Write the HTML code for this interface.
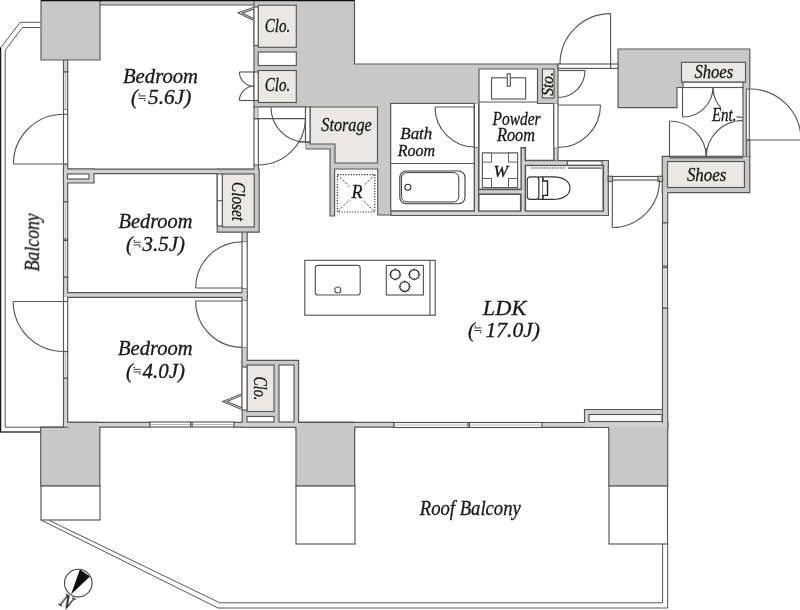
<!DOCTYPE html>
<html><head><meta charset="utf-8"><title>Floor plan</title>
<style>
html,body{margin:0;padding:0;background:#fff;}
body{width:800px;height:610px;overflow:hidden;font-family:"Liberation Serif",serif;}
svg{display:block;}
</style></head>
<body>
<svg width="800" height="610" viewBox="0 0 800 610">
<defs><filter id="soft" x="0" y="0" width="100%" height="100%"><feGaussianBlur stdDeviation="0.38"/></filter></defs>
<rect x="0" y="0" width="800" height="610" fill="#ffffff"/>
<g filter="url(#soft)">
<polygon points="41.58,1.07 99.42,1.07 99.42,59.42 41.58,59.42" fill="#c8c8c9" stroke="#565656" stroke-width="2.3" stroke-linejoin="miter"/>
<polygon points="100.58,1.07 253.43,1.07 253.43,4.42 100.58,4.42" fill="#c8c8c9" stroke="#565656" stroke-width="2.3" stroke-linejoin="miter"/>
<polygon points="254.57,1.07 353.93,1.07 353.93,64.58 557.42,64.58 557.42,102.92 479.57,102.92 479.57,69.58 536.92,69.58 536.92,102.92 390.43,102.92 390.43,214.43 378.27,214.43 378.27,168.43 334.03,168.43 334.03,215.43 330.57,215.43 330.57,148.43 306.07,148.43 306.07,106.42 254.57,106.42" fill="#c8c8c9" stroke="#565656" stroke-width="2.3" stroke-linejoin="miter"/>
<polygon points="64.08,60.58 67.12,60.58 67.12,71.42 64.08,71.42" fill="#d2d2d3" stroke="#565656" stroke-width="2.3" stroke-linejoin="miter"/>
<polygon points="64.08,165.07 67.12,165.07 67.12,201.43 64.08,201.43" fill="#d2d2d3" stroke="#565656" stroke-width="2.3" stroke-linejoin="miter"/>
<polygon points="64.08,277.57 67.12,277.57 67.12,296.43 64.08,296.43" fill="#d2d2d3" stroke="#565656" stroke-width="2.3" stroke-linejoin="miter"/>
<polygon points="64.08,378.57 67.12,378.57 67.12,426.43 64.08,426.43" fill="#d2d2d3" stroke="#565656" stroke-width="2.3" stroke-linejoin="miter"/>
<polygon points="64.08,169.67 257.43,169.67 257.43,173.03 64.08,173.03" fill="#d2d2d3" stroke="#565656" stroke-width="2.3" stroke-linejoin="miter"/>
<polygon points="64.08,169.67 93.42,169.67 93.42,182.43 64.08,182.43" fill="#d2d2d3" stroke="#565656" stroke-width="2.3" stroke-linejoin="miter"/>
<polygon points="217.77,169.88 258.62,169.88 258.62,231.62 217.77,231.62" fill="#c8c8c9" stroke="#565656" stroke-width="2.3" stroke-linejoin="miter"/>
<polygon points="254.57,107.58 257.82,107.58 257.82,118.02 254.57,118.02" fill="#d2d2d3" stroke="#565656" stroke-width="2.3" stroke-linejoin="miter"/>
<polygon points="254.57,165.57 257.82,165.57 257.82,173.03 254.57,173.03" fill="#d2d2d3" stroke="#565656" stroke-width="2.3" stroke-linejoin="miter"/>
<polygon points="242.57,232.57 246.62,232.57 246.62,241.43 242.57,241.43" fill="#d2d2d3" stroke="#565656" stroke-width="2.3" stroke-linejoin="miter"/>
<polygon points="242.57,288.57 246.62,288.57 246.62,300.43 242.57,300.43" fill="#d2d2d3" stroke="#565656" stroke-width="2.3" stroke-linejoin="miter"/>
<polygon points="64.08,293.18 246.62,293.18 246.62,296.73 64.08,296.73" fill="#d2d2d3" stroke="#565656" stroke-width="2.3" stroke-linejoin="miter"/>
<polygon points="242.57,347.88 246.62,347.88 246.62,364.43 242.57,364.43" fill="#d2d2d3" stroke="#565656" stroke-width="2.3" stroke-linejoin="miter"/>
<polygon points="242.77,360.97 298.03,360.97 298.03,426.62 242.77,426.62" fill="#c8c8c9" stroke="#565656" stroke-width="2.3" stroke-linejoin="miter"/>
<polygon points="64.08,422.88 149.43,422.88 149.43,426.62 64.08,426.62" fill="#d2d2d3" stroke="#565656" stroke-width="2.3" stroke-linejoin="miter"/>
<polygon points="234.07,422.88 393.43,422.88 393.43,426.62 234.07,426.62" fill="#d2d2d3" stroke="#565656" stroke-width="2.3" stroke-linejoin="miter"/>
<polygon points="541.88,423.07 667.12,423.07 667.12,426.73 541.88,426.73" fill="#d2d2d3" stroke="#565656" stroke-width="2.3" stroke-linejoin="miter"/>
<polygon points="41.28,427.77 99.22,427.77 99.22,485.62 41.28,485.62" fill="#c8c8c9" stroke="#565656" stroke-width="2.3" stroke-linejoin="miter"/>
<polygon points="296.57,427.77 354.12,427.77 354.12,485.62 296.57,485.62" fill="#c8c8c9" stroke="#565656" stroke-width="2.3" stroke-linejoin="miter"/>
<polygon points="609.38,427.77 667.12,427.77 667.12,485.62 609.38,485.62" fill="#c8c8c9" stroke="#565656" stroke-width="2.3" stroke-linejoin="miter"/>
<polygon points="68.28,422.88 99.22,422.88 99.22,429.43 68.28,429.43" fill="#c8c8c9" stroke="#565656" stroke-width="2.3" stroke-linejoin="miter"/>
<polygon points="296.57,422.88 354.12,422.88 354.12,429.43 296.57,429.43" fill="#c8c8c9" stroke="#565656" stroke-width="2.3" stroke-linejoin="miter"/>
<polygon points="609.38,423.07 667.12,423.07 667.12,429.43 609.38,429.43" fill="#c8c8c9" stroke="#565656" stroke-width="2.3" stroke-linejoin="miter"/>
<polygon points="663.08,157.57 667.12,157.57 667.12,222.43 663.08,222.43" fill="#d2d2d3" stroke="#565656" stroke-width="2.3" stroke-linejoin="miter"/>
<polygon points="663.08,308.57 667.12,308.57 667.12,426.73 663.08,426.73" fill="#d2d2d3" stroke="#565656" stroke-width="2.3" stroke-linejoin="miter"/>
<polygon points="585.08,410.07 662.12,410.07 662.12,426.73 585.08,426.73" fill="#d2d2d3" stroke="#565656" stroke-width="2.3" stroke-linejoin="miter"/>
<polygon points="391.57,211.57 607.72,211.57 607.72,214.93 391.57,214.93" fill="#d2d2d3" stroke="#565656" stroke-width="2.3" stroke-linejoin="miter"/>
<polygon points="474.97,147.57 478.03,147.57 478.03,214.93 474.97,214.93" fill="#d2d2d3" stroke="#565656" stroke-width="2.3" stroke-linejoin="miter"/>
<polygon points="479.18,190.17 524.62,190.17 524.62,193.62 479.18,193.62" fill="#d2d2d3" stroke="#565656" stroke-width="2.3" stroke-linejoin="miter"/>
<polygon points="521.58,148.17 524.62,148.17 524.62,214.93 521.58,214.93" fill="#d2d2d3" stroke="#565656" stroke-width="2.3" stroke-linejoin="miter"/>
<polygon points="521.58,161.17 607.72,161.17 607.72,164.73 521.58,164.73" fill="#d2d2d3" stroke="#565656" stroke-width="2.3" stroke-linejoin="miter"/>
<polygon points="604.08,161.17 607.72,161.17 607.72,214.93 604.08,214.93" fill="#d2d2d3" stroke="#565656" stroke-width="2.3" stroke-linejoin="miter"/>
<polygon points="554.38,148.17 557.42,148.17 557.42,160.43 554.38,160.43" fill="#d2d2d3" stroke="#565656" stroke-width="2.3" stroke-linejoin="miter"/>
<polygon points="618.58,49.58 749.22,49.58 749.22,88.42 743.58,88.42 743.58,86.92 676.42,86.92 676.42,107.02 618.58,107.02" fill="#c8c8c9" stroke="#565656" stroke-width="2.3" stroke-linejoin="miter"/>
<polygon points="743.58,88.08 745.72,88.08 745.72,156.43 743.58,156.43" fill="#d2d2d3" stroke="#565656" stroke-width="2.3" stroke-linejoin="miter"/>
<polygon points="662.88,156.88 749.22,156.88 749.22,192.12 662.88,192.12" fill="#c8c8c9" stroke="#565656" stroke-width="2.3" stroke-linejoin="miter"/>
<polygon points="746.88,140.57 749.22,140.57 749.22,156.43 746.88,156.43" fill="#c8c8c9" stroke="#565656" stroke-width="2.3" stroke-linejoin="miter"/>
<polygon points="41.58,1.07 99.42,1.07 99.42,59.42 41.58,59.42" fill="#c8c8c9"/>
<polygon points="100.58,1.07 253.43,1.07 253.43,4.42 100.58,4.42" fill="#c8c8c9"/>
<polygon points="254.57,1.07 353.93,1.07 353.93,64.58 557.42,64.58 557.42,102.92 479.57,102.92 479.57,69.58 536.92,69.58 536.92,102.92 390.43,102.92 390.43,214.43 378.27,214.43 378.27,168.43 334.03,168.43 334.03,215.43 330.57,215.43 330.57,148.43 306.07,148.43 306.07,106.42 254.57,106.42" fill="#c8c8c9"/>
<polygon points="64.08,60.58 67.12,60.58 67.12,71.42 64.08,71.42" fill="#d2d2d3"/>
<polygon points="64.08,165.07 67.12,165.07 67.12,201.43 64.08,201.43" fill="#d2d2d3"/>
<polygon points="64.08,277.57 67.12,277.57 67.12,296.43 64.08,296.43" fill="#d2d2d3"/>
<polygon points="64.08,378.57 67.12,378.57 67.12,426.43 64.08,426.43" fill="#d2d2d3"/>
<polygon points="64.08,169.67 257.43,169.67 257.43,173.03 64.08,173.03" fill="#d2d2d3"/>
<polygon points="64.08,169.67 93.42,169.67 93.42,182.43 64.08,182.43" fill="#d2d2d3"/>
<polygon points="217.77,169.88 258.62,169.88 258.62,231.62 217.77,231.62" fill="#c8c8c9"/>
<polygon points="254.57,107.58 257.82,107.58 257.82,118.02 254.57,118.02" fill="#d2d2d3"/>
<polygon points="254.57,165.57 257.82,165.57 257.82,173.03 254.57,173.03" fill="#d2d2d3"/>
<polygon points="242.57,232.57 246.62,232.57 246.62,241.43 242.57,241.43" fill="#d2d2d3"/>
<polygon points="242.57,288.57 246.62,288.57 246.62,300.43 242.57,300.43" fill="#d2d2d3"/>
<polygon points="64.08,293.18 246.62,293.18 246.62,296.73 64.08,296.73" fill="#d2d2d3"/>
<polygon points="242.57,347.88 246.62,347.88 246.62,364.43 242.57,364.43" fill="#d2d2d3"/>
<polygon points="242.77,360.97 298.03,360.97 298.03,426.62 242.77,426.62" fill="#c8c8c9"/>
<polygon points="64.08,422.88 149.43,422.88 149.43,426.62 64.08,426.62" fill="#d2d2d3"/>
<polygon points="234.07,422.88 393.43,422.88 393.43,426.62 234.07,426.62" fill="#d2d2d3"/>
<polygon points="541.88,423.07 667.12,423.07 667.12,426.73 541.88,426.73" fill="#d2d2d3"/>
<polygon points="41.28,427.77 99.22,427.77 99.22,485.62 41.28,485.62" fill="#c8c8c9"/>
<polygon points="296.57,427.77 354.12,427.77 354.12,485.62 296.57,485.62" fill="#c8c8c9"/>
<polygon points="609.38,427.77 667.12,427.77 667.12,485.62 609.38,485.62" fill="#c8c8c9"/>
<polygon points="68.28,422.88 99.22,422.88 99.22,429.43 68.28,429.43" fill="#c8c8c9"/>
<polygon points="296.57,422.88 354.12,422.88 354.12,429.43 296.57,429.43" fill="#c8c8c9"/>
<polygon points="609.38,423.07 667.12,423.07 667.12,429.43 609.38,429.43" fill="#c8c8c9"/>
<polygon points="663.08,157.57 667.12,157.57 667.12,222.43 663.08,222.43" fill="#d2d2d3"/>
<polygon points="663.08,308.57 667.12,308.57 667.12,426.73 663.08,426.73" fill="#d2d2d3"/>
<polygon points="585.08,410.07 662.12,410.07 662.12,426.73 585.08,426.73" fill="#d2d2d3"/>
<polygon points="391.57,211.57 607.72,211.57 607.72,214.93 391.57,214.93" fill="#d2d2d3"/>
<polygon points="474.97,147.57 478.03,147.57 478.03,214.93 474.97,214.93" fill="#d2d2d3"/>
<polygon points="479.18,190.17 524.62,190.17 524.62,193.62 479.18,193.62" fill="#d2d2d3"/>
<polygon points="521.58,148.17 524.62,148.17 524.62,214.93 521.58,214.93" fill="#d2d2d3"/>
<polygon points="521.58,161.17 607.72,161.17 607.72,164.73 521.58,164.73" fill="#d2d2d3"/>
<polygon points="604.08,161.17 607.72,161.17 607.72,214.93 604.08,214.93" fill="#d2d2d3"/>
<polygon points="554.38,148.17 557.42,148.17 557.42,160.43 554.38,160.43" fill="#d2d2d3"/>
<polygon points="618.58,49.58 749.22,49.58 749.22,88.42 743.58,88.42 743.58,86.92 676.42,86.92 676.42,107.02 618.58,107.02" fill="#c8c8c9"/>
<polygon points="743.58,88.08 745.72,88.08 745.72,156.43 743.58,156.43" fill="#d2d2d3"/>
<polygon points="662.88,156.88 749.22,156.88 749.22,192.12 662.88,192.12" fill="#c8c8c9"/>
<polygon points="746.88,140.57 749.22,140.57 749.22,156.43 746.88,156.43" fill="#c8c8c9"/>
<line x1="669.5" y1="157.8" x2="743" y2="157.8" stroke="#565656" stroke-width="1.15" />
<rect x="258.2" y="5.2" width="38.1" height="42.1" fill="#e9e8e5" stroke="#565656" stroke-width="1.15"/>
<rect x="258.2" y="52" width="38.1" height="13.5" fill="#fff" stroke="#565656" stroke-width="1.15"/>
<rect x="258.2" y="70.5" width="38.1" height="32.0" fill="#e9e8e5" stroke="#565656" stroke-width="1.15"/>
<rect x="254" y="7" width="4.2" height="38.5" fill="#fff" stroke="#565656" stroke-width="1.15"/>
<rect x="254" y="72" width="4.2" height="28.5" fill="#fff" stroke="#565656" stroke-width="1.15"/>
<rect x="258.4" y="107" width="47.1" height="58" fill="#fff" stroke="none" stroke-width="1.15"/>
<line x1="258.4" y1="107" x2="305.5" y2="107" stroke="#565656" stroke-width="1.15" />
<line x1="305.5" y1="107" x2="305.5" y2="142" stroke="#565656" stroke-width="1.15" />
<line x1="254" y1="118.6" x2="254" y2="165" stroke="#565656" stroke-width="1.15" />
<line x1="258.4" y1="118.6" x2="258.4" y2="165" stroke="#565656" stroke-width="1.15" />
<polygon points="310,107 377.5,107 377.5,163 335,163 335,144 310,144" fill="#e9e8e5" stroke="#565656" stroke-width="1.15"/>
<rect x="305.5" y="107" width="4.5" height="35" fill="#fff" stroke="#565656" stroke-width="1.15"/>
<rect x="67.5" y="174" width="21.5" height="5" fill="#fff" stroke="#565656" stroke-width="1.15"/>
<rect x="222.3" y="174" width="32.0" height="53" fill="#e9e8e5" stroke="#565656" stroke-width="1.15"/>
<rect x="217.2" y="174" width="5.1" height="52" fill="#fff" stroke="#565656" stroke-width="1.15"/>
<line x1="217.2" y1="200.7" x2="222.3" y2="200.7" stroke="#565656" stroke-width="1.15" />
<rect x="247" y="365" width="27" height="46.5" fill="#e9e8e5" stroke="#565656" stroke-width="1.15"/>
<rect x="247" y="416.5" width="27" height="5.5" fill="#fff" stroke="#565656" stroke-width="1.15"/>
<rect x="279" y="365" width="15" height="57" fill="#fff" stroke="#565656" stroke-width="1.15"/>
<rect x="242" y="367" width="5" height="43" fill="#fff" stroke="#565656" stroke-width="1.15"/>
<rect x="41" y="486" width="59" height="34" fill="#fff" stroke="#565656" stroke-width="1.15"/>
<rect x="296" y="486" width="59" height="58" fill="#fff" stroke="#565656" stroke-width="1.15"/>
<rect x="609" y="486" width="58.5" height="58" fill="#fff" stroke="#565656" stroke-width="1.15"/>
<rect x="589" y="414.5" width="73" height="7.0" fill="#fff" stroke="#565656" stroke-width="1.15"/>
<rect x="390.7" y="103.4" width="83.5" height="107.4" fill="#fff" stroke="#565656" stroke-width="1.15"/>
<polygon points="479,69 537.5,69 537.5,103.5 553.8,103.5 553.8,160.4 525.5,160.4 525.5,147.6 521,147.6 521,189 479,189" fill="#fff" stroke="#565656" stroke-width="1.15"/>
<line x1="479" y1="102" x2="537.5" y2="102" stroke="#565656" stroke-width="1.15" />
<rect x="479" y="194.4" width="41.5" height="16.6" fill="#fff" stroke="#565656" stroke-width="1.15"/>
<rect x="525.6" y="165.6" width="77.4" height="45.4" fill="#fff" stroke="#565656" stroke-width="1.15"/>
<rect x="567.3" y="161" width="34.7" height="4.2" fill="#fff" stroke="#565656" stroke-width="1.15"/>
<rect x="542.4" y="69" width="11.6" height="29" fill="#e9e8e5" stroke="#565656" stroke-width="1.15"/>
<rect x="681.5" y="62.3" width="64.0" height="19.9" fill="#e9e8e5" stroke="#565656" stroke-width="1.15"/>
<rect x="683" y="82.2" width="60" height="5.3" fill="#fff" stroke="#565656" stroke-width="1.15"/>
<rect x="667.5" y="161.5" width="76.9" height="26.0" fill="#e9e8e5" stroke="#565656" stroke-width="1.15"/>
<rect x="63.5" y="72" width="4.2" height="38" fill="#ececec" stroke="#565656" stroke-width="1.15"/>
<line x1="65.6" y1="72" x2="65.6" y2="110" stroke="#999" stroke-width="0.5" />
<rect x="63.5" y="110" width="4.2" height="54.5" fill="#fff" stroke="none" stroke-width="1.15"/>
<line x1="63.5" y1="110" x2="63.5" y2="164.5" stroke="#565656" stroke-width="1.15" />
<line x1="67.7" y1="110" x2="67.7" y2="164.5" stroke="#565656" stroke-width="1.15" />
<line x1="63.5" y1="114.3" x2="67.7" y2="114.3" stroke="#565656" stroke-width="1.15" />
<line x1="63.5" y1="164" x2="67.7" y2="164" stroke="#565656" stroke-width="1.15" />
<rect x="63.5" y="202" width="4.2" height="75" fill="#ececec" stroke="#565656" stroke-width="1.15"/>
<line x1="65.6" y1="202" x2="65.6" y2="277" stroke="#999" stroke-width="0.5" />
<line x1="63.5" y1="239" x2="67.7" y2="239" stroke="#565656" stroke-width="1.15" />
<line x1="63.5" y1="240.5" x2="67.7" y2="240.5" stroke="#565656" stroke-width="1.15" />
<rect x="63.5" y="297" width="4.2" height="54.5" fill="#fff" stroke="none" stroke-width="1.15"/>
<line x1="63.5" y1="297" x2="63.5" y2="351.5" stroke="#565656" stroke-width="1.15" />
<line x1="67.7" y1="297" x2="67.7" y2="351.5" stroke="#565656" stroke-width="1.15" />
<line x1="63.5" y1="301.5" x2="67.7" y2="301.5" stroke="#565656" stroke-width="1.15" />
<line x1="63.5" y1="351.5" x2="67.7" y2="351.5" stroke="#565656" stroke-width="1.15" />
<rect x="63.5" y="351.5" width="4.2" height="26.5" fill="#ececec" stroke="#565656" stroke-width="1.15"/>
<line x1="65.6" y1="351.5" x2="65.6" y2="378" stroke="#999" stroke-width="0.5" />
<rect x="242" y="242" width="5.2" height="46" fill="#fff" stroke="none" stroke-width="1.15"/>
<line x1="242" y1="242" x2="242" y2="288" stroke="#565656" stroke-width="1.15" />
<line x1="247.2" y1="242" x2="247.2" y2="288" stroke="#565656" stroke-width="1.15" />
<rect x="242" y="301" width="5.2" height="46.3" fill="#fff" stroke="none" stroke-width="1.15"/>
<line x1="242" y1="301" x2="242" y2="347.3" stroke="#565656" stroke-width="1.15" />
<line x1="247.2" y1="301" x2="247.2" y2="347.3" stroke="#565656" stroke-width="1.15" />
<rect x="474.4" y="103.5" width="4.2" height="43.5" fill="#fff" stroke="none" stroke-width="1.15"/>
<line x1="474.4" y1="103.5" x2="474.4" y2="147" stroke="#565656" stroke-width="1.15" />
<line x1="478.6" y1="103.5" x2="478.6" y2="147" stroke="#565656" stroke-width="1.15" />
<rect x="553.8" y="103.5" width="4.2" height="44.1" fill="#fff" stroke="none" stroke-width="1.15"/>
<line x1="553.8" y1="103.5" x2="553.8" y2="147.6" stroke="#565656" stroke-width="1.15" />
<line x1="558" y1="103.5" x2="558" y2="147.6" stroke="#565656" stroke-width="1.15" />
<rect x="662.5" y="223" width="5.0" height="85" fill="#ececec" stroke="#565656" stroke-width="1.15"/>
<line x1="665.0" y1="223" x2="665.0" y2="308" stroke="#999" stroke-width="0.5" />
<line x1="662.5" y1="266" x2="667.5" y2="266" stroke="#565656" stroke-width="1.15" />
<line x1="662.5" y1="267.5" x2="667.5" y2="267.5" stroke="#565656" stroke-width="1.15" />
<rect x="150" y="422" width="84" height="5" fill="#fff" stroke="#565656" stroke-width="1.15"/>
<line x1="150" y1="424.5" x2="234" y2="424.5" stroke="#888" stroke-width="0.6" />
<line x1="190.6" y1="422" x2="190.6" y2="427" stroke="#565656" stroke-width="1.15" />
<line x1="192.1" y1="422" x2="192.1" y2="427" stroke="#565656" stroke-width="1.15" />
<rect x="394" y="422.5" width="148" height="5.0" fill="#fff" stroke="#565656" stroke-width="1.15"/>
<line x1="394" y1="425.0" x2="542" y2="425.0" stroke="#888" stroke-width="0.6" />
<line x1="468" y1="422.5" x2="468" y2="427.5" stroke="#565656" stroke-width="1.15" />
<line x1="469.5" y1="422.5" x2="469.5" y2="427.5" stroke="#565656" stroke-width="1.15" />
<rect x="558" y="64" width="60" height="4.4" fill="#fff" stroke="#565656" stroke-width="1.15"/>
<line x1="610.6" y1="64" x2="610.6" y2="68.4" stroke="#565656" stroke-width="1.15" />
<rect x="608.3" y="176.5" width="54.2" height="3.5" fill="#fff" stroke="#565656" stroke-width="1.15"/>
<rect x="608.3" y="176.3" width="4.2" height="5.2" fill="#c8c8c9" stroke="#565656" stroke-width="1.15"/>
<rect x="658" y="176.3" width="4.5" height="5.2" fill="#c8c8c9" stroke="#565656" stroke-width="1.15"/>
<line x1="13.4" y1="164" x2="63.3" y2="164" stroke="#565656" stroke-width="1.15" />
<path d="M13.4,164 A50,50 0 0 1 63.6,114.3" fill="none" stroke="#565656" stroke-width="1.15" />
<line x1="13.2" y1="301.5" x2="63.3" y2="301.5" stroke="#565656" stroke-width="1.15" />
<path d="M13.2,301.5 A50.2,50.2 0 0 0 63.6,351.5" fill="none" stroke="#565656" stroke-width="1.15" />
<line x1="195.7" y1="288" x2="242" y2="288" stroke="#565656" stroke-width="1.15" />
<path d="M195.7,288 A46.3,46.3 0 0 1 242,241.8" fill="none" stroke="#565656" stroke-width="1.15" />
<line x1="195.7" y1="301" x2="242" y2="301" stroke="#565656" stroke-width="1.15" />
<path d="M195.7,301 A46.3,46.3 0 0 0 242,347.3" fill="none" stroke="#565656" stroke-width="1.15" />
<line x1="254" y1="118.6" x2="305.4" y2="118.6" stroke="#565656" stroke-width="1.15" />
<path d="M305.4,118.6 A47,47 0 0 1 258.4,165" fill="none" stroke="#565656" stroke-width="1.15" />
<path d="M271,107.3 A34.6,34.6 0 0 0 305.6,142" fill="none" stroke="#565656" stroke-width="1.15" />
<line x1="298" y1="142" x2="310" y2="142" stroke="#565656" stroke-width="1.15" />
<path d="M253.6,8.2 L240.2,12.9 L253.6,19.6" fill="none" stroke="#4a4a4a" stroke-width="2.6" />
<path d="M253.6,8.2 L240.2,12.9 L253.6,19.6" fill="none" stroke="#d8d8d8" stroke-width="0.9" />
<line x1="239.4" y1="72" x2="254" y2="72" stroke="#565656" stroke-width="1.15" />
<path d="M239.4,72 A14.4,14.4 0 0 0 254,86.3" fill="none" stroke="#565656" stroke-width="1.15" />
<line x1="239.4" y1="100.5" x2="254" y2="100.5" stroke="#565656" stroke-width="1.15" />
<path d="M239.4,100.5 A14.4,14.4 0 0 1 254,86.3" fill="none" stroke="#565656" stroke-width="1.15" />
<path d="M241.6,394.6 L224.8,401.5 L241.6,408.5" fill="none" stroke="#4a4a4a" stroke-width="2.6" />
<path d="M241.6,394.6 L224.8,401.5 L241.6,408.5" fill="none" stroke="#d8d8d8" stroke-width="0.9" />
<line x1="435" y1="107" x2="474.4" y2="107" stroke="#565656" stroke-width="1.15" />
<path d="M435,107 A40,40 0 0 0 475,147" fill="none" stroke="#565656" stroke-width="1.15" />
<line x1="558" y1="105" x2="600.5" y2="105" stroke="#565656" stroke-width="1.15" />
<path d="M600.5,105 A42.5,42.5 0 0 1 558,147.5" fill="none" stroke="#565656" stroke-width="1.15" />
<line x1="558" y1="70.5" x2="585" y2="70.5" stroke="#565656" stroke-width="1.15" />
<path d="M585,70.5 A27,27 0 0 1 558,97.5" fill="none" stroke="#565656" stroke-width="1.15" />
<line x1="610.6" y1="13.6" x2="610.6" y2="64" stroke="#565656" stroke-width="1.15" />
<path d="M610.6,13.6 A50.5,50.5 0 0 0 560,64" fill="none" stroke="#565656" stroke-width="1.15" />
<line x1="612.3" y1="180" x2="612.3" y2="227.5" stroke="#565656" stroke-width="1.15" />
<path d="M612.3,227.5 A47.3,47.3 0 0 0 659.5,180" fill="none" stroke="#565656" stroke-width="1.15" />
<line x1="746.5" y1="140" x2="800" y2="140" stroke="#565656" stroke-width="1.15" />
<path d="M750,89 A51,51 0 0 1 801,140" fill="none" stroke="#565656" stroke-width="1.15" />
<line x1="682.5" y1="87" x2="682.5" y2="117" stroke="#565656" stroke-width="1.15" />
<path d="M682.5,117 A30,30 0 0 0 713,87.5" fill="none" stroke="#565656" stroke-width="1.15" />
<path d="M713,87.5 A30,30 0 0 0 743,117.5" fill="none" stroke="#565656" stroke-width="1.15" />
<line x1="669.5" y1="121" x2="669.5" y2="157" stroke="#565656" stroke-width="1.15" />
<path d="M669.5,121 A36.6,36.6 0 0 1 706.3,157" fill="none" stroke="#565656" stroke-width="1.15" />
<path d="M706.3,157 A36.6,36.6 0 0 1 743,120.4" fill="none" stroke="#565656" stroke-width="1.15" />
<line x1="706.4" y1="148" x2="706.4" y2="157" stroke="#565656" stroke-width="1.1" />
<rect x="719.5" y="107.5" width="17.0" height="13.8" fill="#fff" stroke="none" stroke-width="1.15"/>
<line x1="749.3" y1="89" x2="749.3" y2="140" stroke="#565656" stroke-width="1.15" />
<path d="M40.5,22.3 L20.2,22.3 L0.6,47.9 L0.6,432 L40.5,432" fill="none" stroke="#565656" stroke-width="1.0" />
<line x1="0.55" y1="47.5" x2="0.55" y2="432.5" stroke="#161616" stroke-width="1.3" />
<line x1="0" y1="432" x2="40.5" y2="432" stroke="#333" stroke-width="1.2" />
<path d="M40.5,27.5 L22.4,27.5 L5.2,50.3 L5.2,427.2 L63.5,427.2" fill="none" stroke="#565656" stroke-width="1.0" />
<path d="M41,520 L218,608 L667.7,608 L667.7,544" fill="none" stroke="#565656" stroke-width="1.0" />
<path d="M49,520.3 L219.8,602.8 L662.6,602.8 L662.6,544" fill="none" stroke="#565656" stroke-width="1.0" />
<line x1="41" y1="0.5" x2="354.5" y2="0.5" stroke="#111" stroke-width="1.4" />
<rect x="491.5" y="77.8" width="34.1" height="21.2" fill="#fff" stroke="#565656" stroke-width="1.15"/>
<rect x="507.3" y="73.8" width="3.0" height="12.4" fill="#fff" stroke="#565656" stroke-width="1.15"/>
<line x1="391" y1="163.5" x2="474.4" y2="163.5" stroke="#565656" stroke-width="1.15" />
<rect x="399.8" y="171" width="65.2" height="32.7" fill="#fff" stroke="#3a3a3a" stroke-width="1.1" rx="6.5"/>
<rect x="401.4" y="172.6" width="57.4" height="29.4" fill="#fff" stroke="#3a3a3a" stroke-width="1.0" rx="5.5"/>
<circle cx="407.9" cy="187.3" r="3" fill="#fff" stroke="#333" stroke-width="1.1"/>
<rect x="482.4" y="153" width="35.2" height="34.6" fill="#fff" stroke="#565656" stroke-width="1.15"/>
<rect x="482.4" y="153" width="9.1" height="9.1" fill="#fff" stroke="#565656" stroke-width="0.9"/>
<rect x="508.5" y="153" width="9.1" height="9.1" fill="#fff" stroke="#565656" stroke-width="0.9"/>
<rect x="482.4" y="178.5" width="9.1" height="9.1" fill="#fff" stroke="#565656" stroke-width="0.9"/>
<rect x="508.5" y="178.5" width="9.1" height="9.1" fill="#fff" stroke="#565656" stroke-width="0.9"/>
<g stroke="#333" fill="none"><rect x="337.4" y="174.7" width="37.4" height="37.3" stroke-width="1.2" stroke-dasharray="1.2,1.47"/><path d="M337.4,174.7 L374.8,212 M374.8,174.7 L337.4,212" stroke-width="1.0" stroke-dasharray="2.2,1.6"/></g>
<rect x="349.5" y="185" width="14.5" height="15" fill="#fff" stroke="none" stroke-width="1.15"/>
<line x1="531.3" y1="168.1" x2="565.8" y2="168.1" stroke="#777" stroke-width="1.5" stroke-dasharray="1.5,1.1"/>
<line x1="568.1" y1="168.1" x2="601.6" y2="168.1" stroke="#888" stroke-width="1.7" />
<path d="M538.6,176.9 L553,176.9 C563.5,176.9 570,181.6 570,188.15 C570,194.7 563.5,199.4 553,199.4 L538.6,199.4 Z" fill="#fff" stroke="#333" stroke-width="1.1" />
<rect x="527.3" y="176.9" width="11.5" height="22.5" fill="#fff" stroke="#333" stroke-width="1.1" rx="3"/>
<line x1="542.6" y1="176.9" x2="542.6" y2="199.4" stroke="#565656" stroke-width="0.8" />
<path d="M543,177.2 L543,181 L547.5,181 L547.5,195.4 L543,195.4 L543,199.2" fill="none" stroke="#222" stroke-width="1.4" />
<rect x="304.8" y="260.3" width="130.4" height="54.9" fill="#fff" stroke="#565656" stroke-width="1.15"/>
<line x1="430" y1="260.3" x2="430" y2="315.2" stroke="#565656" stroke-width="1.15" />
<rect x="315.3" y="265.4" width="44.9" height="29.6" fill="#fff" stroke="#565656" stroke-width="1.15" rx="2.5"/>
<circle cx="337.8" cy="290" r="3" fill="#fff" stroke="#565656" stroke-width="1.15"/>
<rect x="386.3" y="265.4" width="37.1" height="29.6" fill="#fff" stroke="#565656" stroke-width="1.15"/>
<circle cx="395.3" cy="274.4" r="4.9" fill="#fff" stroke="#2a2a2a" stroke-width="1.25"/>
<line x1="389.0" y1="274.4" x2="391.8" y2="274.4" stroke="#565656" stroke-width="0.8" />
<line x1="398.8" y1="274.4" x2="401.6" y2="274.4" stroke="#565656" stroke-width="0.8" />
<line x1="395.3" y1="268.09999999999997" x2="395.3" y2="270.9" stroke="#565656" stroke-width="0.8" />
<line x1="395.3" y1="277.9" x2="395.3" y2="280.7" stroke="#565656" stroke-width="0.8" />
<circle cx="414.2" cy="274.4" r="4.9" fill="#fff" stroke="#2a2a2a" stroke-width="1.25"/>
<line x1="407.9" y1="274.4" x2="410.7" y2="274.4" stroke="#565656" stroke-width="0.8" />
<line x1="417.7" y1="274.4" x2="420.5" y2="274.4" stroke="#565656" stroke-width="0.8" />
<line x1="414.2" y1="268.09999999999997" x2="414.2" y2="270.9" stroke="#565656" stroke-width="0.8" />
<line x1="414.2" y1="277.9" x2="414.2" y2="280.7" stroke="#565656" stroke-width="0.8" />
<circle cx="404.7" cy="286.6" r="4.9" fill="#fff" stroke="#2a2a2a" stroke-width="1.25"/>
<line x1="398.4" y1="286.6" x2="401.2" y2="286.6" stroke="#565656" stroke-width="0.8" />
<line x1="408.2" y1="286.6" x2="411.0" y2="286.6" stroke="#565656" stroke-width="0.8" />
<line x1="404.7" y1="280.3" x2="404.7" y2="283.1" stroke="#565656" stroke-width="0.8" />
<line x1="404.7" y1="290.1" x2="404.7" y2="292.90000000000003" stroke="#565656" stroke-width="0.8" />
<circle cx="78.3" cy="583.1" r="13.8" fill="#fff" stroke="#444" stroke-width="1.1"/>
<polygon points="71.1,594.2 79.9,569.5 90,576.4" fill="#0a0a0a"/>
<g font-family="'Liberation Serif', serif" font-style="italic" fill="#151515" stroke="#151515" stroke-width="0.3" opacity="0.99">
<text x="123" y="82.5" font-size="20.5" text-anchor="start" textLength="75" lengthAdjust="spacingAndGlyphs" >Bedroom</text>
<text x="131" y="104.4" font-size="20.5" text-anchor="start" >(</text>
<g stroke="#222" stroke-width="0.9" fill="#222"><line x1="138.5" y1="95.9" x2="145.7" y2="95.9"/><line x1="138.5" y1="98.5" x2="145.7" y2="98.5"/><circle cx="139.4" cy="94.0" r="0.75" stroke="none"/><circle cx="144.79999999999998" cy="100.4" r="0.75" stroke="none"/></g>
<text x="148" y="104.4" font-size="20.5" text-anchor="start" textLength="43.5" lengthAdjust="spacingAndGlyphs" >5.6J)</text>
<text x="118.5" y="228" font-size="20.5" text-anchor="start" textLength="74" lengthAdjust="spacingAndGlyphs" >Bedroom</text>
<text x="126" y="250.8" font-size="20.5" text-anchor="start" >(</text>
<g stroke="#222" stroke-width="0.9" fill="#222"><line x1="133.5" y1="242.29999999999998" x2="140.7" y2="242.29999999999998"/><line x1="133.5" y1="244.9" x2="140.7" y2="244.9"/><circle cx="134.4" cy="240.4" r="0.75" stroke="none"/><circle cx="139.79999999999998" cy="246.79999999999998" r="0.75" stroke="none"/></g>
<text x="142.5" y="250.8" font-size="20.5" text-anchor="start" textLength="42.5" lengthAdjust="spacingAndGlyphs" >3.5J)</text>
<text x="118" y="355" font-size="20.5" text-anchor="start" textLength="74.5" lengthAdjust="spacingAndGlyphs" >Bedroom</text>
<text x="126" y="377.8" font-size="20.5" text-anchor="start" >(</text>
<g stroke="#222" stroke-width="0.9" fill="#222"><line x1="133.5" y1="369.3" x2="140.7" y2="369.3"/><line x1="133.5" y1="371.90000000000003" x2="140.7" y2="371.90000000000003"/><circle cx="134.4" cy="367.40000000000003" r="0.75" stroke="none"/><circle cx="139.79999999999998" cy="373.8" r="0.75" stroke="none"/></g>
<text x="142.5" y="377.8" font-size="20.5" text-anchor="start" textLength="42.5" lengthAdjust="spacingAndGlyphs" >4.0J)</text>
<text x="482.8" y="314.7" font-size="21" text-anchor="start" textLength="43.5" lengthAdjust="spacingAndGlyphs" >LDK</text>
<text x="468" y="336.6" font-size="20.5" text-anchor="start" >(</text>
<g stroke="#222" stroke-width="0.9" fill="#222"><line x1="474.3" y1="327.9" x2="481.5" y2="327.9"/><line x1="474.3" y1="330.5" x2="481.5" y2="330.5"/><circle cx="475.2" cy="326.0" r="0.75" stroke="none"/><circle cx="480.6" cy="332.4" r="0.75" stroke="none"/></g>
<text x="485.5" y="336.6" font-size="20.5" text-anchor="start" textLength="54.5" lengthAdjust="spacingAndGlyphs" >17.0J)</text>
<text x="419.8" y="514.8" font-size="20.5" text-anchor="start" textLength="101" lengthAdjust="spacingAndGlyphs" >Roof Balcony</text>
<text x="39.1" y="271.2" font-size="20" text-anchor="start" textLength="57.8" lengthAdjust="spacingAndGlyphs" transform="rotate(-90 39.1 271.2)" >Balcony</text>
<text x="264.8" y="32" font-size="18.5" text-anchor="start" textLength="25.5" lengthAdjust="spacingAndGlyphs" >Clo.</text>
<text x="264.8" y="91" font-size="18.5" text-anchor="start" textLength="25.5" lengthAdjust="spacingAndGlyphs" >Clo.</text>
<text x="321.3" y="131" font-size="18" text-anchor="start" textLength="50.5" lengthAdjust="spacingAndGlyphs" >Storage</text>
<text x="232.1" y="182" font-size="19.5" text-anchor="start" textLength="39" lengthAdjust="spacingAndGlyphs" transform="rotate(90 232.1 182)" >Closet</text>
<text x="351.5" y="198" font-size="18" text-anchor="start" >R</text>
<text x="254" y="376.4" font-size="19" text-anchor="start" textLength="24" lengthAdjust="spacingAndGlyphs" transform="rotate(90 254 376.4)" >Clo.</text>
<text x="400.3" y="139.2" font-size="17.5" text-anchor="start" textLength="32" lengthAdjust="spacingAndGlyphs" >Bath</text>
<text x="397.7" y="155.8" font-size="17.5" text-anchor="start" textLength="37.3" lengthAdjust="spacingAndGlyphs" >Room</text>
<text x="492.5" y="124.5" font-size="18" text-anchor="start" textLength="48" lengthAdjust="spacingAndGlyphs" >Powder</text>
<text x="497" y="141" font-size="18" text-anchor="start" textLength="38" lengthAdjust="spacingAndGlyphs" >Room</text>
<text x="553.2" y="95.8" font-size="17" text-anchor="start" textLength="23.6" lengthAdjust="spacingAndGlyphs" transform="rotate(-90 553.2 95.8)" >Sto.</text>
<text x="500.8" y="176.8" font-size="17.5" text-anchor="middle" textLength="14.5" lengthAdjust="spacingAndGlyphs" >W</text>
<text x="694.4" y="78.1" font-size="19" text-anchor="start" textLength="38.7" lengthAdjust="spacingAndGlyphs" >Shoes</text>
<text x="686.9" y="180.6" font-size="19.5" text-anchor="start" textLength="39.4" lengthAdjust="spacingAndGlyphs" >Shoes</text>
<text x="711.9" y="120.6" font-size="19" text-anchor="start" textLength="24.5" lengthAdjust="spacingAndGlyphs" >Ent.</text>
<text x="66.3" y="608.3" font-size="18" text-anchor="middle" transform="rotate(29 66.3 602.5)" >N</text>
</g>
</g>
</svg>
</body></html>
